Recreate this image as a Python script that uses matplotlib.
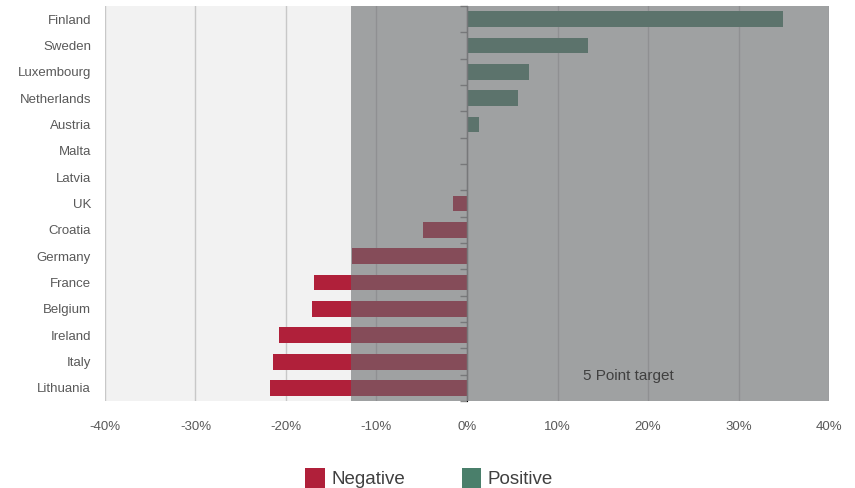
import numpy as np
import matplotlib
matplotlib.use("Agg")
import matplotlib.pyplot as plt
from matplotlib.patches import Patch
from matplotlib.ticker import FuncFormatter

plt.rcParams["font.family"] = ["Liberation Sans", "DejaVu Sans"]

# ── data ──────────────────────────────────────────────────────────────────────
countries = ["Finland", "Sweden", "Luxembourg", "Netherlands", "Austria",
             "Malta", "Latvia", "UK", "Croatia", "Germany", "France",
             "Belgium", "Ireland", "Italy", "Lithuania"]
values = [34.9, 13.4, 6.8, 5.6, 1.3, 0.0, 0.0, -1.5, -4.9, -12.7, -16.9,
          -17.1, -20.8, -21.4, -21.8]
x_ticks = [-40, -30, -20, -10, 0, 10, 20, 30, 40]
target_start = -12.8
target_label = "5 Point target"
target_label_x = 12.8

NEG = "#b0203a"
POS = "#4a7f6b"

fig = plt.figure(figsize=(8.55, 4.88), dpi=100)
ax = fig.add_axes([0.1228, 0.178, 0.9696 - 0.1228, 0.9877 - 0.178])
ax.set_facecolor("#f2f2f2")

y = np.arange(len(countries))
colors = [POS if v > 0 else NEG for v in values]
ax.barh(y, values, height=0.6, color=colors, zorder=3)

# grid
for t in x_ticks:
    if t != 0:
        ax.axvline(t, color="#c8c8c8", linewidth=1, zorder=1)
ax.axvline(0, color="#8c8c8c", linewidth=1, zorder=4)

# zero-axis tick marks at category boundaries
sec = ax.secondary_yaxis(0.5)
sec.set_yticks(np.arange(len(countries) + 1) - 0.5)
sec.set_yticklabels([])
sec.tick_params(axis="y", length=5, width=1, color="#8c8c8c", direction="in")
sec.spines["left"].set_visible(False)

# shaded target region
ax.axvspan(target_start, 40, facecolor="#696b6e", alpha=0.6, linewidth=0,
           zorder=5)
ax.text(target_label_x, 13.55, target_label, ha="left", va="center",
        fontsize=11, color="#404040", zorder=6)

ax.set_xlim(-40, 40)
ax.set_ylim(len(countries) - 0.5, -0.5)
ax.set_xticks(x_ticks)
ax.xaxis.set_major_formatter(FuncFormatter(lambda v, _: f"{v:.0f}%"))
ax.set_yticks(y)
ax.set_yticklabels(countries)
ax.tick_params(axis="x", length=0, pad=14, labelsize=9.5, labelcolor="#595959")
ax.tick_params(axis="y", length=0, pad=10, labelsize=9.5, labelcolor="#595959")
for s in ax.spines.values():
    s.set_visible(False)

handles = [Patch(facecolor=NEG, label="Negative"),
           Patch(facecolor=POS, label="Positive")]
fig.legend(handles=handles, loc="center", bbox_to_anchor=(0.502, 0.02),
           ncol=2, frameon=False, fontsize=13.5, handlelength=1.05,
           handleheight=1.3, columnspacing=3.0, handletextpad=0.35,
           labelcolor="#404040")

fig.savefig("out.png", dpi=100)
